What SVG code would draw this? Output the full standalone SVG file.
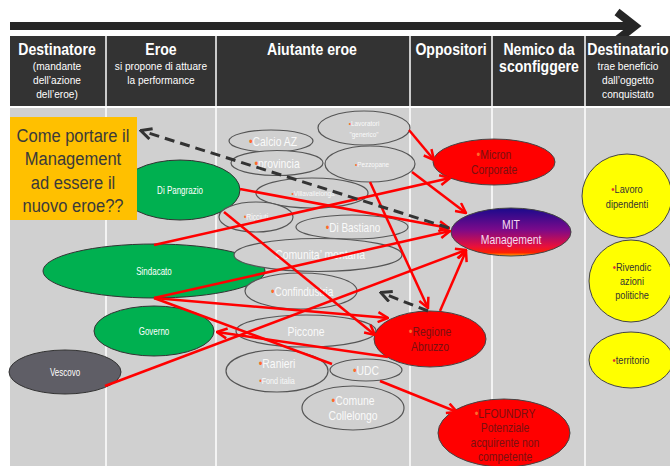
<svg xmlns="http://www.w3.org/2000/svg" width="670" height="466" viewBox="0 0 670 466">
<defs>
<style>
.t{font-family:"Liberation Sans",Arial,sans-serif;text-anchor:middle;transform-box:fill-box;transform-origin:center;transform:scaleX(0.8)}
.h{transform:scaleX(0.88)}
.hb{fill:#fff;font-weight:bold;font-size:16px}
.hs{fill:#fff;font-size:11.5px}
.g{fill:#d0d0d0;stroke:#555;stroke-width:1.2}
.gt{fill:#fafafa}
.b{fill:#ff6a2a}
.rn{fill:#ff0000;stroke:#444;stroke-width:1}
.rt{fill:#7a1010;font-size:13px}
.gr{fill:#00b050;stroke:#333;stroke-width:1}
.wt{fill:#fff;font-size:10px}
.yl{fill:#ffff00;stroke:#444;stroke-width:1}
.yt{fill:#333;font-size:11.5px}
.bx{fill:#3a3a3a;font-size:19px;transform:scaleX(0.87)}
.red{stroke:#ff0000;stroke-width:2.5;fill:none;marker-end:url(#ar)}
.dash{stroke:#333;stroke-width:3;fill:none;stroke-dasharray:10 6;marker-end:url(#ad)}
</style>
<marker id="ar" viewBox="0 0 10 10" refX="9" refY="5" markerWidth="5" markerHeight="5" orient="auto"><path d="M1,1 L9,5 L1,9" fill="none" stroke="#ff0000" stroke-width="2"/></marker>
<marker id="ad" viewBox="0 0 10 10" refX="8" refY="5" markerWidth="4.5" markerHeight="4.5" orient="auto"><path d="M1,1 L9,5 L1,9" fill="none" stroke="#333" stroke-width="2.2"/></marker>
<linearGradient id="mit" x1="0" y1="0" x2="0" y2="1">
<stop offset="0" stop-color="#1a0a8c"/>
<stop offset="0.45" stop-color="#7a0a8a"/>
<stop offset="0.8" stop-color="#e8103c"/>
<stop offset="0.93" stop-color="#ff2000"/>
<stop offset="1" stop-color="#ffb000"/>
</linearGradient>
</defs>
<rect width="670" height="466" fill="#fff"/>
<g id="timeline">
<line x1="10" y1="26" x2="632" y2="26" stroke="#262626" stroke-width="8"/>
<polyline points="617,12 635,26 617,40" fill="none" stroke="#262626" stroke-width="8" stroke-linejoin="miter"/>
</g>
<g id="header">
<rect x="10" y="36" width="660" height="70" fill="#333"/>
<rect x="10" y="108" width="660" height="358" fill="#d0d0d0"/>
<g stroke="#fff" stroke-width="1.5">
<line x1="106" y1="36" x2="106" y2="466"/>
<line x1="216" y1="36" x2="216" y2="466"/>
<line x1="410" y1="36" x2="410" y2="466"/>
<line x1="492" y1="36" x2="492" y2="466"/>
<line x1="585" y1="36" x2="585" y2="466"/>
</g>
<text class="t h hb" x="57" y="55">Destinatore</text>
<text class="t h hs" x="57" y="70">(mandante</text>
<text class="t h hs" x="57" y="84">dell’azione</text>
<text class="t h hs" x="57" y="98">dell’eroe)</text>
<text class="t h hb" x="161" y="55">Eroe</text>
<text class="t h hs" x="161" y="70">si propone di attuare</text>
<text class="t h hs" x="161" y="84">la performance</text>
<text class="t h hb" x="312" y="55">Aiutante eroe</text>
<text class="t h hb" x="451" y="55">Oppositori</text>
<text class="t h hb" x="539" y="55">Nemico da</text>
<text class="t h hb" x="539" y="72">sconfiggere</text>
<text class="t h hb" x="628" y="55">Destinatario</text>
<text class="t h hs" x="628" y="70">trae beneficio</text>
<text class="t h hs" x="628" y="84">dall’oggetto</text>
<text class="t h hs" x="628" y="98">conquistato</text>
</g>
<g id="n-dipangrazio"><ellipse class="gr" cx="180" cy="190" rx="60" ry="30"/><text class="t wt" x="180" y="194">Di Pangrazio</text></g>
<g id="n-sindacato"><ellipse class="gr" cx="154" cy="271" rx="111" ry="27"/><text class="t wt" x="154" y="275">Sindacato</text></g>
<g id="n-governo"><ellipse class="gr" cx="154" cy="331" rx="60" ry="25"/><text class="t wt" x="154" y="335">Governo</text></g>
<g id="n-vescovo"><ellipse cx="65" cy="372" rx="56" ry="22" fill="#5f5e66" stroke="#333" stroke-width="1"/><text class="t wt" x="65" y="376">Vescovo</text></g>
<g id="n-lavoratori"><ellipse class="g" cx="364" cy="128" rx="46" ry="17"/><text class="t gt" x="364" y="126" font-size="8"><tspan class="b">•</tspan>Lavoratori</text><text class="t gt" x="364" y="137" font-size="8">"generico"</text></g>
<g id="n-calcio"><ellipse class="g" cx="271" cy="141" rx="42" ry="11"/><text class="t gt" x="273" y="146" font-size="13"><tspan class="b">•</tspan>Calcio AZ</text></g>
<g id="n-provincia"><ellipse class="g" cx="277" cy="163" rx="46" ry="12.5"/><text class="t gt" x="277" y="168" font-size="13"><tspan class="b">•</tspan>provincia</text></g>
<g id="n-pezzopane"><ellipse class="g" cx="370" cy="164" rx="45" ry="18"/><text class="t gt" x="372" y="167" font-size="8"><tspan class="b">•</tspan>Pezzopane</text></g>
<g id="n-villavallelonga"><ellipse class="g" cx="312" cy="193" rx="56" ry="15"/><text class="t gt" x="313" y="196" font-size="8"><tspan class="b">•</tspan>Villavallelonga</text></g>
<g id="n-ricciuti"><ellipse class="g" cx="256" cy="217" rx="37" ry="15"/><text class="t gt" x="256" y="220" font-size="8.5"><tspan class="b">•</tspan>Ricciuti</text></g>
<g id="n-dibastiano"><ellipse class="g" cx="352" cy="227" rx="56" ry="12"/><text class="t gt" x="353" y="232" font-size="12.5"><tspan class="b">•</tspan>Di Bastiano</text></g>
<g id="n-comunita"><ellipse class="g" cx="318" cy="255" rx="84" ry="16.5"/><text class="t gt" x="320" y="259" font-size="13">Comunita’ montana</text></g>
<g id="n-confindustria"><ellipse class="g" cx="301" cy="291" rx="56" ry="18"/><text class="t gt" x="302" y="296" font-size="12.5"><tspan class="b">•</tspan>Confindustria</text></g>
<g id="n-piccone"><ellipse class="g" cx="306" cy="331" rx="70" ry="16"/><text class="t gt" x="306" y="336" font-size="13">Piccone</text></g>
<g id="n-ranieri"><ellipse class="g" cx="277" cy="371" rx="51" ry="21"/><text class="t gt" x="277" y="368" font-size="13"><tspan class="b">•</tspan>Ranieri</text><text class="t gt" x="277" y="384" font-size="9"><tspan class="b">•</tspan>Fond italia</text></g>
<g id="n-udc"><ellipse class="g" cx="366" cy="370" rx="36" ry="11"/><text class="t gt" x="366" y="375" font-size="13"><tspan class="b">•</tspan>UDC</text></g>
<g id="n-collelongo"><ellipse class="g" cx="353" cy="408" rx="51" ry="22"/><text class="t gt" x="353" y="405" font-size="13"><tspan class="b">•</tspan>Comune</text><text class="t gt" x="353" y="420" font-size="13">Collelongo</text></g>
<g id="n-micron"><ellipse class="rn" cx="494" cy="162" rx="61" ry="23"/><text class="t rt" x="494" y="159"><tspan class="b">•</tspan>Micron</text><text class="t rt" x="494" y="174">Corporate</text></g>
<g id="n-mit"><ellipse cx="511" cy="232" rx="60" ry="24" fill="url(#mit)" stroke="#444" stroke-width="1"/><text class="t" x="511" y="229" font-size="13" fill="#f4dcf0">MIT</text><text class="t" x="511" y="244" font-size="13" fill="#f4dcf0">Management</text></g>
<g id="n-regione"><ellipse class="rn" cx="430" cy="339" rx="56" ry="28"/><text class="t rt" x="430" y="336"><tspan class="b">•</tspan>Regione</text><text class="t rt" x="430" y="351">Abruzzo</text></g>
<g id="n-lfoundry"><ellipse class="rn" cx="504" cy="433" rx="66" ry="34"/><text class="t rt" x="505" y="418"><tspan class="b">•</tspan>LFOUNDRY</text><text class="t rt" x="505" y="432">Potenziale</text><text class="t rt" x="505" y="447">acquirente non</text><text class="t rt" x="505" y="461">competente</text></g>
<g id="n-lavoro"><ellipse class="yl" cx="627" cy="196" rx="45" ry="42"/><text class="t yt" x="627" y="193"><tspan fill="#e03030">•</tspan>Lavoro</text><text class="t yt" x="627" y="208">dipendenti</text></g>
<g id="n-rivendic"><ellipse class="yl" cx="631" cy="281" rx="42" ry="41"/><text class="t yt" x="632" y="271"><tspan fill="#e03030">•</tspan>Rivendic</text><text class="t yt" x="632" y="285">azioni</text><text class="t yt" x="632" y="299">politiche</text></g>
<g id="n-territorio"><ellipse class="yl" cx="631" cy="360" rx="42" ry="28"/><text class="t yt" x="631" y="364"><tspan fill="#e03030">•</tspan>territorio</text></g>
<g id="n-domanda"><rect x="10" y="117" width="127" height="103" fill="#ffc000"/><text class="t bx" x="73" y="142">Come portare il</text><text class="t bx" x="73" y="165">Management</text><text class="t bx" x="73" y="189">ad essere il</text><text class="t bx" x="73" y="212">nuovo eroe??</text></g>
<g id="connectors">
<path class="red" d="M409,130 L434,160"/>
<path class="red" d="M412,172 L466,213"/>
<path class="red" d="M370,182 L428,308"/>
<path class="red" d="M240,189 L449,228"/>
<path class="red" d="M224,212 L375,335"/>
<path class="red" d="M154,245 L450,178"/>
<path class="red" d="M154,298 L450,231"/>
<path class="red" d="M154,298 L388,318"/>
<path d="M154,298 L332,364" stroke="#ff0000" stroke-width="2.5" fill="none"/>
<path class="red" d="M380,381 L457,412"/>
<path class="red" d="M105,386 L466,250"/>
<path class="red" d="M388,357 L217,332"/>
<path class="red" d="M440,311 L466,251"/>
<path class="dash" d="M449,228 L142,131"/>
<path class="dash" d="M428,311 L382,293"/>
</g>
</svg>
